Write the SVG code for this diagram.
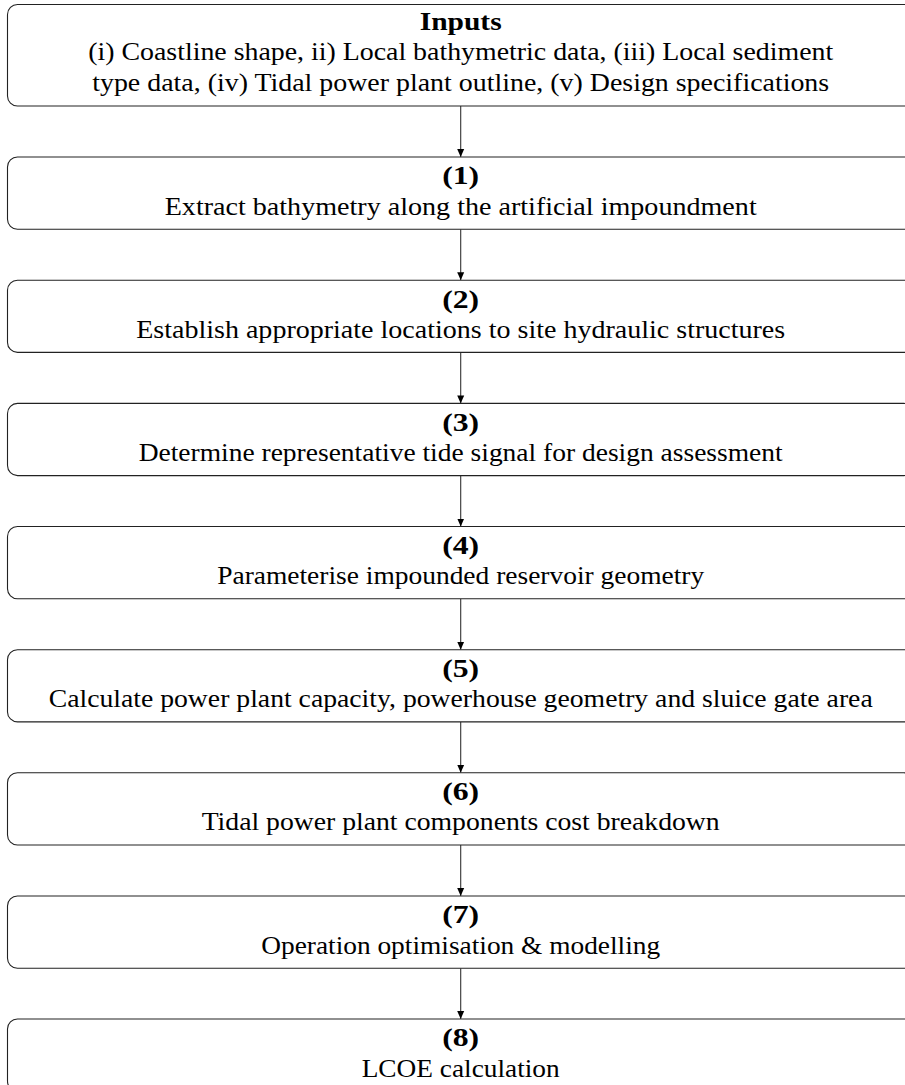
<svg xmlns="http://www.w3.org/2000/svg" width="905" height="1085" viewBox="0 0 905 1085">
<style>
.box{fill:#fff;stroke:#222;stroke-width:1.1}
.t{font-family:"Liberation Serif","DejaVu Serif",serif;font-size:25.2px;fill:#000;text-anchor:middle}
.b{font-weight:bold}
.c{stroke:#333;stroke-width:1.1;fill:none}
</style>
<defs>
<marker id="ah" markerWidth="8" markerHeight="8" refX="8" refY="4" orient="auto" markerUnits="userSpaceOnUse">
<path d="M0,0.5 L8,4 L0,7.5 Z" fill="#000"/>
</marker>
</defs>
<g id="connectors">
<line class="c" x1="460.7" y1="106" x2="460.7" y2="157" marker-end="url(#ah)"/>
<line class="c" x1="460.7" y1="229.2" x2="460.7" y2="280.2" marker-end="url(#ah)"/>
<line class="c" x1="460.7" y1="352.4" x2="460.7" y2="403.4" marker-end="url(#ah)"/>
<line class="c" x1="460.7" y1="475.6" x2="460.7" y2="526.5" marker-end="url(#ah)"/>
<line class="c" x1="460.7" y1="598.7" x2="460.7" y2="649.7" marker-end="url(#ah)"/>
<line class="c" x1="460.7" y1="721.9" x2="460.7" y2="772.8" marker-end="url(#ah)"/>
<line class="c" x1="460.7" y1="845" x2="460.7" y2="896" marker-end="url(#ah)"/>
<line class="c" x1="460.7" y1="968.2" x2="460.7" y2="1019" marker-end="url(#ah)"/>
</g>
<g id="inputs">
<rect class="box" x="7.5" y="4.5" width="906.4" height="101.5" rx="10"/>
<text class="t b" x="460.7" y="30.2" textLength="82" lengthAdjust="spacingAndGlyphs">Inputs</text>
<text class="t" x="460.7" y="60.4" textLength="745" lengthAdjust="spacingAndGlyphs">(i) Coastline shape, ii) Local bathymetric data, (iii) Local sediment</text>
<text class="t" x="460.7" y="90.6" textLength="737" lengthAdjust="spacingAndGlyphs">type data, (iv) Tidal power plant outline, (v) Design specifications</text>
</g>
<g id="step1">
<rect class="box" x="7.5" y="157" width="906.4" height="72.2" rx="10"/>
<text class="t b" x="460.7" y="184.3" textLength="37" lengthAdjust="spacingAndGlyphs">(1)</text>
<text class="t" x="460.7" y="214.5" textLength="592" lengthAdjust="spacingAndGlyphs">Extract bathymetry along the artificial impoundment</text>
</g>
<g id="step2">
<rect class="box" x="7.5" y="280.2" width="906.4" height="72.2" rx="10"/>
<text class="t b" x="460.7" y="307.5" textLength="37" lengthAdjust="spacingAndGlyphs">(2)</text>
<text class="t" x="460.7" y="337.7" textLength="649" lengthAdjust="spacingAndGlyphs">Establish appropriate locations to site hydraulic structures</text>
</g>
<g id="step3">
<rect class="box" x="7.5" y="403.4" width="906.4" height="72.2" rx="10"/>
<text class="t b" x="460.7" y="430.7" textLength="37" lengthAdjust="spacingAndGlyphs">(3)</text>
<text class="t" x="460.7" y="460.9" textLength="644" lengthAdjust="spacingAndGlyphs">Determine representative tide signal for design assessment</text>
</g>
<g id="step4">
<rect class="box" x="7.5" y="526.5" width="906.4" height="72.2" rx="10"/>
<text class="t b" x="460.7" y="553.8" textLength="37" lengthAdjust="spacingAndGlyphs">(4)</text>
<text class="t" x="460.7" y="584" textLength="487" lengthAdjust="spacingAndGlyphs">Parameterise impounded reservoir geometry</text>
</g>
<g id="step5">
<rect class="box" x="7.5" y="649.7" width="906.4" height="72.2" rx="10"/>
<text class="t b" x="460.7" y="677" textLength="37" lengthAdjust="spacingAndGlyphs">(5)</text>
<text class="t" x="460.7" y="707.2" textLength="824" lengthAdjust="spacingAndGlyphs">Calculate power plant capacity, powerhouse geometry and sluice gate area</text>
</g>
<g id="step6">
<rect class="box" x="7.5" y="772.8" width="906.4" height="72.2" rx="10"/>
<text class="t b" x="460.7" y="800.1" textLength="37" lengthAdjust="spacingAndGlyphs">(6)</text>
<text class="t" x="460.7" y="830.3" textLength="518" lengthAdjust="spacingAndGlyphs">Tidal power plant components cost breakdown</text>
</g>
<g id="step7">
<rect class="box" x="7.5" y="896" width="906.4" height="72.2" rx="10"/>
<text class="t b" x="460.7" y="923.3" textLength="37" lengthAdjust="spacingAndGlyphs">(7)</text>
<text class="t" x="460.7" y="953.5" textLength="399" lengthAdjust="spacingAndGlyphs">Operation optimisation &amp; modelling</text>
</g>
<g id="step8">
<rect class="box" x="7.5" y="1019" width="906.4" height="72.2" rx="10"/>
<text class="t b" x="460.7" y="1046.3" textLength="37" lengthAdjust="spacingAndGlyphs">(8)</text>
<text class="t" x="460.7" y="1076.5" textLength="198" lengthAdjust="spacingAndGlyphs">LCOE calculation</text>
</g>
</svg>
